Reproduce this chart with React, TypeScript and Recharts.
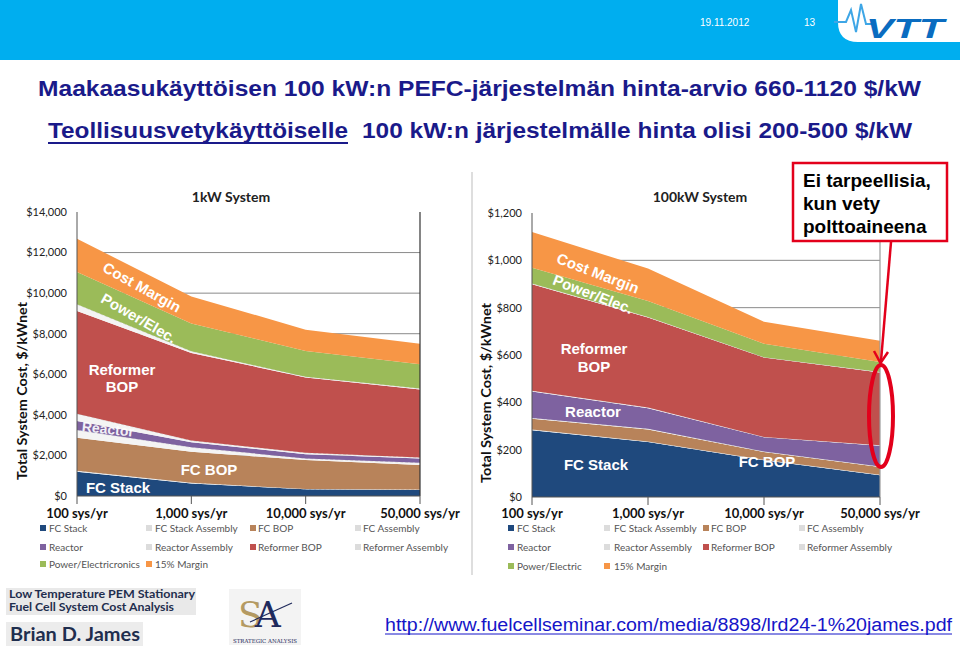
import React from "react";
import {
  AreaChart,
  Area,
  XAxis,
  YAxis,
  CartesianGrid,
  ReferenceLine,
} from "recharts";

// x categories (production volume)
const categories = ["100 sys/yr", "1,000 sys/yr", "10,000 sys/yr", "50,000 sys/yr"];

const yTicks1kW = [0, 2000, 4000, 6000, 8000, 10000, 12000, 14000];
const yTicks100kW = [0, 200, 400, 600, 800, 1000, 1200];

// 1kW System, $/kWnet per cost layer
const fcStack1kW = [1200, 620, 330, 300];
const fcStackAsm1kW = [50, 30, 20, 20];
const fcBop1kW = [1620, 1530, 1420, 1210];
const fcAsm1kW = [380, 220, 80, 110];
const reactor1kW = [450, 250, 210, 210];
const reactorAsm1kW = [350, 80, 70, 50];
const reformerBop1kW = [5070, 4320, 3710, 3350];
const reformerAsm1kW = [330, 80, 40, 50];
const power1kW = [1590, 1370, 1270, 1200];
const margin1kW = [1640, 1340, 1050, 1010];

// 100kW System, $/kWnet per cost layer
const fcStack100kW = [282, 232, 155, 92];
const fcStackAsm100kW = [3, 3, 2, 2];
const fcBop100kW = [46, 50, 33, 33];
const fcAsm100kW = [3, 3, 2, 2];
const reactor100kW = [112, 87, 60, 88];
const reactorAsm100kW = [3, 3, 2, 2];
const reformerBop100kW = [450, 380, 335, 307];
const reformerAsm100kW = [3, 3, 2, 2];
const power100kW = [67, 67, 57, 42];
const margin100kW = [151, 137, 92, 90];

const legend1kW = [
  "FC Stack", "FC Stack Assembly", "FC BOP", "FC Assembly",
  "Reactor", "Reactor Assembly", "Reformer BOP", "Reformer Assembly",
  "Power/Electricronics", "15% Margin",
];
const legend100kW = [
  "FC Stack", "FC Stack Assembly", "FC BOP", "FC Assembly",
  "Reactor", "Reactor Assembly", "Reformer BOP", "Reformer Assembly",
  "Power/Electric", "15% Margin",
];

const layerKeys = [
  "fcStack", "fcStackAsm", "fcBop", "fcAsm", "reactor",
  "reactorAsm", "reformerBop", "reformerAsm", "power", "margin",
];

const layerStyle: Record<string, { fill: string; asm?: boolean }> = {
  fcStack: { fill: "#1F497D" },
  fcStackAsm: { fill: "#F4F4F4", asm: true },
  fcBop: { fill: "#B8835A" },
  fcAsm: { fill: "#F4F4F4", asm: true },
  reactor: { fill: "#7E62A0" },
  reactorAsm: { fill: "#F4F4F4", asm: true },
  reformerBop: { fill: "#C0504D" },
  reformerAsm: { fill: "#F4F4F4", asm: true },
  power: { fill: "#9BBB59" },
  margin: { fill: "#F79646" },
};

function buildRows(cols: number[][]) {
  return categories.map((cat, i) => {
    const row: Record<string, string | number> = { cat };
    layerKeys.forEach((k, j) => {
      row[k] = cols[j][i];
    });
    return row;
  });
}

const rows1kW = buildRows([
  fcStack1kW, fcStackAsm1kW, fcBop1kW, fcAsm1kW, reactor1kW,
  reactorAsm1kW, reformerBop1kW, reformerAsm1kW, power1kW, margin1kW,
]);
const rows100kW = buildRows([
  fcStack100kW, fcStackAsm100kW, fcBop100kW, fcAsm100kW, reactor100kW,
  reactorAsm100kW, reformerBop100kW, reformerAsm100kW, power100kW, margin100kW,
]);

const money = (v: number) => "$" + v.toLocaleString("en-US");

function StackChart({ data, ticks, yWidth, right, top, bottom, edge, xMargin }: any) {
  const max = ticks[ticks.length - 1];
  return (
    <AreaChart
      width={470}
      height={360}
      data={data}
      margin={{ top, right, bottom, left: 0 }}
    >
      <CartesianGrid
        vertical={false}
        stroke="#8a8a8a"
        horizontalValues={ticks.slice(1, -1)}
      />
      <XAxis
        dataKey="cat"
        interval={0}
        tickSize={8}
        tickMargin={xMargin}
        height={34}
        stroke="#555"
        tick={{ fontFamily: "Lato", fontWeight: 700, fontSize: 13, fill: "#111" }}
      />
      <YAxis
        width={yWidth}
        domain={[0, max]}
        ticks={ticks}
        tickFormatter={money}
        tickLine={false}
        tickSize={6}
        tickMargin={4}
        stroke="#555"
        tick={{ fontFamily: "Lato", fontSize: 11, fill: "#222" }}
      />
      {layerKeys.map((k) => (
        <Area
          key={k}
          type="linear"
          dataKey={k}
          stackId="1"
          fill={layerStyle[k].fill}
          fillOpacity={1}
          stroke={layerStyle[k].asm ? "#cfcfcf" : "none"}
          strokeDasharray={layerStyle[k].asm ? "3 2" : undefined}
          strokeWidth={0.8}
          isAnimationActive={false}
        />
      ))}
      <ReferenceLine x={categories[3]} stroke={edge} strokeWidth={1.2} />
    </AreaChart>
  );
}

function Legend({ labels, textX, markX, rowY }: any) {
  return (
    <>
      {labels.map((lab: string, i: number) => {
        const r = Math.floor(i / 4);
        const c = i % 4;
        const st = layerStyle[layerKeys[i]];
        return (
          <React.Fragment key={lab + i}>
            <div
              style={{
                position: "absolute",
                left: markX[c],
                top: rowY[r] - 3,
                width: 6,
                height: 6,
                background: st.asm ? "#dcdcdc" : st.fill,
              }}
            />
            <div
              style={{
                position: "absolute",
                left: textX[c],
                top: rowY[r] - 6,
                fontFamily: "Lato",
                fontSize: 10,
                lineHeight: "12px",
                color: "#555",
                whiteSpace: "nowrap",
              }}
            >
              {lab}
            </div>
          </React.Fragment>
        );
      })}
    </>
  );
}

const white = { fill: "#fff", fontFamily: "Liberation Sans, Arial", fontWeight: 700, fontSize: 15 } as const;

export default function App() {
  return (
    <div
      style={{
        position: "absolute",
        left: 0,
        top: 0,
        width: 960,
        height: 647,
        overflow: "hidden",
        background: "#fff",
        fontFamily: "Liberation Sans, Arial",
      }}
    >
      <div style={{ position: "absolute", left: 0, top: 170 }}>
        <StackChart data={rows1kW} ticks={yTicks1kW} yWidth={77} right={50} top={42} bottom={0} edge="#333" xMargin={5} />
      </div>
      <div style={{ position: "absolute", left: 472, top: 170 }}>
        <StackChart data={rows100kW} ticks={yTicks100kW} yWidth={60} right={62} top={43} bottom={-1} edge="#9a9a9a" xMargin={4} />
      </div>

      <Legend labels={legend1kW} textX={[49, 155, 258, 363]} markX={[40, 146, 250, 355]} rowY={[528, 547, 564]} />
      <Legend labels={legend100kW} textX={[517, 614, 711, 807]} markX={[508, 604, 703, 799]} rowY={[528, 547, 566]} />

      <svg
        width={960}
        height={647}
        style={{ position: "absolute", left: 0, top: 0, pointerEvents: "none" }}
      >
        {/* header band */}
        <rect x={0} y={0} width={960} height={60} fill="#00AEEF" />
        <path d="M838,0 H960 V42 H858 Q838,42 838,22 Z" fill="#fff" />
        <polyline
          points="834,22 846,22 851,10 856,32 861,4 866,24 872,24"
          fill="none"
          stroke="#3EA6E6"
          strokeWidth={2}
        />
        <text x={866} y={38} fontFamily="Liberation Sans, Arial" fontWeight={700} fontStyle="italic" fontSize={28} fill="#0A6CC0" textLength={78} lengthAdjust="spacingAndGlyphs">
          VTT
        </text>
        <text x={700} y={26} fontSize={10} fill="#fff">19.11.2012</text>
        <text x={804} y={26} fontSize={10} fill="#fff">13</text>

        {/* title lines */}
        <text x={38} y={96} fontFamily="Liberation Sans Narrow, Liberation Sans, Arial" fontWeight={700} fontSize={22} fill="#1A1A8A" textLength={883} lengthAdjust="spacingAndGlyphs">
          Maakaasukäyttöisen 100 kW:n PEFC-järjestelmän hinta-arvio 660-1120 $/kW
        </text>
        <text x={48} y={138} fontFamily="Liberation Sans Narrow, Liberation Sans, Arial" fontWeight={700} fontSize={22} fill="#1A1A8A" textLength={300} lengthAdjust="spacingAndGlyphs">
          Teollisuusvetykäyttöiselle
        </text>
        <line x1={48} x2={348} y1={143} y2={143} stroke="#1A1A8A" strokeWidth={2} />
        <text x={362} y={138} fontFamily="Liberation Sans Narrow, Liberation Sans, Arial" fontWeight={700} fontSize={22} fill="#1A1A8A" textLength={550} lengthAdjust="spacingAndGlyphs">
          100 kW:n järjestelmälle hinta olisi 200-500 $/kW
        </text>

        {/* separator between the two charts */}
        <line x1={472} x2={472} y1={172} y2={575} stroke="#bdbdbd" />

        {/* chart titles */}
        <text x={231} y={202} textAnchor="middle" fontFamily="Lato" fontWeight={700} fontSize={14} fill="#222">1kW System</text>
        <text x={700} y={202} textAnchor="middle" fontFamily="Lato" fontWeight={700} fontSize={14} fill="#222">100kW System</text>

        {/* y axis titles */}
        <text transform="translate(27,391) rotate(-90)" textAnchor="middle" fontFamily="Lato" fontWeight={700} fontSize={14} fill="#111" textLength={178} lengthAdjust="spacingAndGlyphs">
          Total System Cost, $/kWnet
        </text>
        <text transform="translate(491,393) rotate(-90)" textAnchor="middle" fontFamily="Lato" fontWeight={700} fontSize={14} fill="#111" textLength={180} lengthAdjust="spacingAndGlyphs">
          Total System Cost, $/kWnet
        </text>

        {/* in-area labels, 1kW */}
        <text {...white} transform="translate(142,287) rotate(29)" textAnchor="middle" dominantBaseline="central">Cost Margin</text>
        <text {...white} transform="translate(139,318) rotate(30)" textAnchor="middle" dominantBaseline="central">Power/Elec.</text>
        <text {...white} x={122} y={369} textAnchor="middle" dominantBaseline="central">Reformer</text>
        <text {...white} x={122} y={386} textAnchor="middle" dominantBaseline="central">BOP</text>
        <text {...white} fontSize={14} transform="translate(108,429) rotate(6)" textAnchor="middle" dominantBaseline="central" opacity={0.9}>Reactor</text>
        <text {...white} x={209} y={469} textAnchor="middle" dominantBaseline="central">FC BOP</text>
        <text {...white} x={118} y={487} textAnchor="middle" dominantBaseline="central">FC Stack</text>

        {/* in-area labels, 100kW */}
        <text {...white} transform="translate(598,273) rotate(21)" textAnchor="middle" dominantBaseline="central">Cost Margin</text>
        <text {...white} transform="translate(593,294) rotate(21)" textAnchor="middle" dominantBaseline="central">Power/Elec.</text>
        <text {...white} x={594} y={348} textAnchor="middle" dominantBaseline="central">Reformer</text>
        <text {...white} x={594} y={366} textAnchor="middle" dominantBaseline="central">BOP</text>
        <text {...white} x={593} y={411} textAnchor="middle" dominantBaseline="central">Reactor</text>
        <text {...white} x={596} y={464} textAnchor="middle" dominantBaseline="central">FC Stack</text>
        <text {...white} x={767} y={461} textAnchor="middle" dominantBaseline="central">FC BOP</text>

        {/* annotation */}
        <rect x={793} y={163} width={154} height={78} fill="#fff" stroke="#E3001B" strokeWidth={2.5} />
        <text x={803} y={187} fontWeight={700} fontSize={19} fill="#000">Ei tarpeellisia,</text>
        <text x={803} y={210} fontWeight={700} fontSize={19} fill="#000">kun vety</text>
        <text x={803} y={233} fontWeight={700} fontSize={19} fill="#000">polttoaineena</text>
        <line x1={891} y1={242} x2={881} y2={361} stroke="#E3001B" strokeWidth={2.5} />
        <polyline points="874,351 880.5,363 888,352" fill="none" stroke="#E3001B" strokeWidth={2.5} />
        <ellipse cx={881} cy={416} rx={12} ry={51} fill="none" stroke="#E3001B" strokeWidth={4} />

        {/* source credits */}
        <rect x={6} y={588} width={190} height={27} fill="#e9e9e9" />
        <text x={9} y={598} fontFamily="Lato" fontWeight={700} fontSize={11} fill="#1F2E4E" textLength={186} lengthAdjust="spacingAndGlyphs">Low Temperature PEM Stationary</text>
        <text x={9} y={611} fontFamily="Lato" fontWeight={700} fontSize={11} fill="#1F2E4E" textLength={165} lengthAdjust="spacingAndGlyphs">Fuel Cell System Cost Analysis</text>
        <rect x={6} y={622} width={137} height={24} fill="#ececec" />
        <text x={10} y={641} fontFamily="Lato" fontWeight={700} fontSize={18} fill="#1F2E4E" textLength={130} lengthAdjust="spacingAndGlyphs">Brian D. James</text>

        <rect x={229} y={589} width={72} height={56} fill="#f3f3f3" />
        <text x={238} y={627} fontFamily="DejaVu Serif, serif" fontSize={36} letterSpacing={-8}>
          <tspan fill="#B49A62">S</tspan>
          <tspan fill="#1F2A5C">A</tspan>
        </text>
        <line x1={250} y1={622} x2={292} y2={603} stroke="#1F2A5C" strokeWidth={1.2} />
        <text x={265} y={643} textAnchor="middle" fontFamily="DejaVu Serif, serif" fontSize={5.5} fill="#1F2A5C" textLength={64} lengthAdjust="spacingAndGlyphs">STRATEGIC ANALYSIS</text>

        <text x={385} y={631} fontSize={18} fill="#1515C8" textLength={567} lengthAdjust="spacingAndGlyphs">
          http://www.fuelcellseminar.com/media/8898/lrd24-1%20james.pdf
        </text>
        <line x1={385} x2={952} y1={634} y2={634} stroke="#1515C8" strokeWidth={1} />
      </svg>
    </div>
  );
}
